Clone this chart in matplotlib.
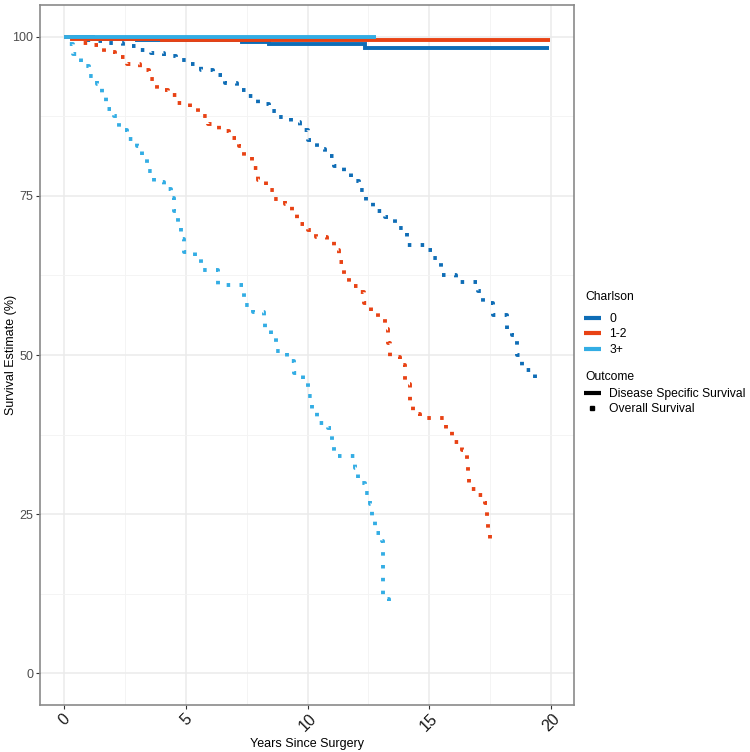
import matplotlib
matplotlib.use("Agg")
import matplotlib.pyplot as plt
from matplotlib.lines import Line2D
import numpy as np

plt.rcParams['font.family'] = ['Liberation Sans', 'DejaVu Sans']

# ---------------- data ----------------
groups = ["0", "1-2", "3+"]
colors = ["#0E6DB6", "#E84214", "#33ADE4"]

# Overall survival (Kaplan-Meier step curves)
os_time_0 = [0, 0.7, 1.3, 1.85, 2.4, 2.97, 3.55, 4.1, 4.6, 5.15, 5.6, 6.1, 6.6, 7.1, 7.55,
             7.96, 8.4, 8.8, 9.3, 9.7, 10.0, 10.4, 10.7, 11.1, 11.5, 11.8, 12.1, 12.4, 12.7,
             13.2, 13.6, 14.1, 14.9, 15.1, 15.5, 16.1, 17.0, 17.2, 17.6, 18.2, 18.4, 18.6,
             18.8, 19.35]
os_surv_0 = [100, 99.5, 99.3, 99.0, 98.6, 98.0, 97.5, 97.0, 96.4, 95.7, 94.8, 94.0, 92.8, 91.7,
             90.7, 89.5, 88.4, 87.4, 86.6, 85.4, 83.8, 82.4, 81.3, 79.7, 78.8, 77.4, 75.9, 74.0,
             72.6, 71.7, 70.0, 67.3, 66.5, 65.3, 62.6, 61.5, 60.0, 58.2, 56.3, 54.0, 53.1, 50.0,
             47.6, 46.2]
os_end_0 = 19.6

os_time_1 = [0, 0.66, 1.24, 1.65, 2.1, 2.6, 3.1, 3.47, 3.8, 4.25, 4.65, 5.15, 5.5, 5.9, 6.35,
             6.75, 7.2, 7.4, 7.7, 7.96, 8.3, 8.6, 9.07, 9.36, 9.55, 10.0, 10.35, 10.8, 11.1,
             11.3, 11.5, 11.7, 12.1, 12.3, 12.6, 12.9, 13.2, 13.3, 13.4, 13.8, 14.0, 14.2,
             14.35, 14.6, 15.7, 15.95, 16.35, 16.55, 16.6, 16.65, 16.95, 17.3, 17.35, 17.4,
             17.5]
os_surv_1 = [100, 99.0, 98.7, 97.6, 96.8, 95.8, 94.8, 93.4, 91.7, 90.9, 89.6, 88.9, 87.6, 86.3,
             85.2, 84.1, 82.9, 81.3, 79.4, 77.5, 75.9, 74.5, 73.7, 72.3, 70.6, 69.7, 68.6, 67.9,
             66.5, 64.6, 62.6, 60.8, 59.9, 58.2, 56.8, 55.7, 54.1, 51.9, 49.7, 48.4, 45.5, 42.5,
             40.8, 40.1, 38.4, 36.4, 35.1, 33.6, 31.3, 29.0, 28.0, 26.7, 24.4, 22.2, 20.0]
os_end_1 = 17.55

os_time_2 = [0, 0.1, 0.37, 0.7, 1.0, 1.35, 1.57, 1.7, 2.06, 2.27, 2.56, 3.0, 3.2, 3.4, 3.67,
             4.08, 4.4, 4.5, 4.66, 4.78, 4.94, 5.36, 5.6, 6.3, 7.35, 7.4, 7.75, 8.2, 8.25, 8.5,
             8.7, 9.15, 9.45, 9.8, 10.0, 10.2, 10.4, 10.85, 11.0, 11.1, 11.95, 12.05, 12.35,
             12.55, 12.65, 12.75, 13.05, 13.1, 13.35]
os_surv_2 = [100, 98.8, 97.3, 95.4, 93.9, 92.6, 90.9, 88.7, 87.5, 85.3, 83.9, 82.8, 81.0, 78.9,
             77.2, 76.1, 74.7, 72.6, 70.4, 68.2, 66.2, 65.3, 63.3, 61.0, 60.1, 57.9, 56.8, 56.0,
             54.1, 52.7, 50.6, 49.1, 47.1, 45.6, 43.6, 41.5, 39.3, 38.5, 36.3, 34.1, 32.2, 29.9,
             28.3, 26.6, 24.2, 22.0, 20.8, 11.6, 10.6]
os_end_2 = 13.42

# Disease specific survival
dss_time_0 = [0, 1.2, 3.0, 7.3, 8.4, 12.35]
dss_surv_0 = [100, 99.7, 99.5, 99.2, 98.8, 98.2]
dss_end_0 = 19.9

dss_time_1 = [0, 0.3, 4.0]
dss_surv_1 = [100, 99.7, 99.5]
dss_end_1 = 19.95

dss_time_2 = [0]
dss_surv_2 = [100]
dss_end_2 = 12.8

x_ticks = [0, 5, 10, 15, 20]
y_ticks = [0, 25, 50, 75, 100]
outcomes = ["Disease Specific Survival", "Overall Survival"]

os_data = [(os_time_0, os_surv_0, os_end_0), (os_time_1, os_surv_1, os_end_1),
           (os_time_2, os_surv_2, os_end_2)]
dss_data = [(dss_time_0, dss_surv_0, dss_end_0), (dss_time_1, dss_surv_1, dss_end_1),
            (dss_time_2, dss_surv_2, dss_end_2)]

# ---------------- figure ----------------
fig = plt.figure(figsize=(7.5, 7.52), dpi=100)
ax = fig.add_axes([40 / 750, 1 - 705 / 752, (574 - 40) / 750, (705 - 5) / 752])


def km(t, s, end):
    t = list(t) + [end]
    s = list(s) + [s[-1]]
    return t, s


for (t, s, e), c in zip(os_data, colors):
    tt, ss = km(t, s, e)
    ax.step(tt, ss, where='post', color=c, lw=2.8, linestyle=(0, (0.9, 2.4)),
            dash_capstyle='butt', zorder=3)

for (t, s, e), c in zip(dss_data, colors):
    tt, ss = km(t, s, e)
    ax.step(tt, ss, where='post', color=c, lw=2.8, solid_capstyle='butt',
            solid_joinstyle='miter', zorder=4)

ax.set_xlim(-0.995, 20.945)
ax.set_ylim(-5, 105)
ax.set_xticks(x_ticks)
ax.set_yticks(y_ticks)
ax.set_xticks([2.5, 7.5, 12.5, 17.5], minor=True)
ax.set_yticks([12.5, 37.5, 62.5, 87.5], minor=True)
ax.grid(True, which='major', color='#EBEBEB', lw=1.1, zorder=0)
ax.grid(True, which='minor', color='#F3F3F3', lw=0.6, zorder=0)
ax.set_axisbelow(True)
ax.tick_params(which='minor', length=0)
ax.tick_params(axis='both', which='major', length=2.8, width=0.8, color='#333333')
ax.tick_params(axis='y', labelsize=9, labelcolor='#4D4D4D', pad=2)
ax.tick_params(axis='x', labelsize=11.5, labelcolor='#1A1A1A', pad=1.5)
for lab in ax.get_xticklabels():
    lab.set_rotation(45)
    lab.set_ha('center')
    lab.set_va('top')
for sp in ax.spines.values():
    sp.set_color('#8A8A8A')
    sp.set_linewidth(1.2)

ax.set_xlabel("Years Since Surgery", fontsize=9, labelpad=3)
ax.set_ylabel("Survival Estimate (%)", fontsize=9)
ax.yaxis.set_label_coords(-0.044, 0.5)

# ---------------- legends ----------------
lx = 585 / 750
fig.text(lx, 1 - 297 / 752, "Charlson", fontsize=8.7, ha='left', va='center')
h1 = [Line2D([0], [0], color=c, lw=3, solid_capstyle='butt') for c in colors]
leg1 = fig.legend(h1, groups, loc='upper left',
                  bbox_to_anchor=(584 / 750, 1 - 313 / 752), frameon=False,
                  fontsize=8.7, handlelength=1.4,
                  handletextpad=0.7, labelspacing=0.28, borderpad=0, borderaxespad=0)

fig.text(lx, 1 - 377 / 752, "Outcome", fontsize=8.7, ha='left', va='center')
h2 = [Line2D([0], [0], color='black', lw=3, solid_capstyle='butt'),
      Line2D([0], [0], color='black', lw=0, marker='s', markersize=3.2)]
leg2 = fig.legend(h2, outcomes, loc='upper left',
                  bbox_to_anchor=(584 / 750, 1 - 388 / 752),
                  frameon=False, fontsize=8.7, handlelength=1.4,
                  handletextpad=0.7, labelspacing=0.28, borderpad=0, borderaxespad=0)

fig.savefig("out.png", dpi=100)
